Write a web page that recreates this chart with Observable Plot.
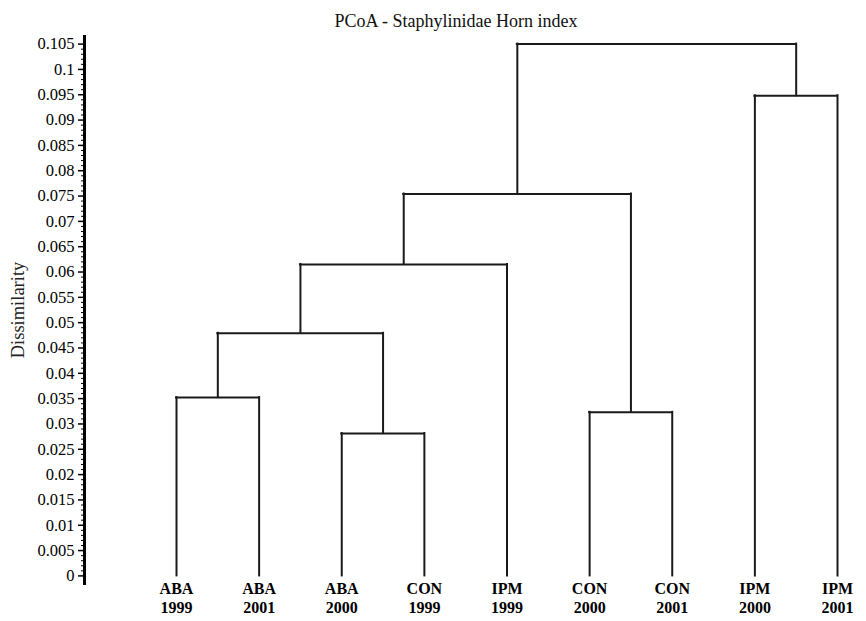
<!DOCTYPE html>
<html>
<head>
<meta charset="utf-8">
<script src="https://cdn.jsdelivr.net/npm/d3@7"></script>
<script src="https://cdn.jsdelivr.net/npm/@observablehq/plot@0.6"></script>
<style>
  html, body { margin: 0; padding: 0; background: #fff; }
</style>
</head>
<body>
<div id="chart"></div>
<script>
// Leaves (left to right)
const leafNames = ["ABA", "ABA", "ABA", "CON", "IPM", "CON", "CON", "IPM", "IPM"];
const leafYears = ["1999", "2001", "2000", "1999", "1999", "2000", "2001", "2000", "2001"];

// Merges: nodes 0..8 are leaves, merge k creates node 9+k
const mergeLeft   = [0, 2, 9, 11, 5, 12, 7, 14];
const mergeRight  = [1, 3, 10, 4, 6, 13, 8, 15];
const mergeHeight = [0.0352, 0.0281, 0.0479, 0.0615, 0.0323, 0.0754, 0.0948, 0.105];

// Y axis ticks
const yTicks = [0, 0.005, 0.01, 0.015, 0.02, 0.025, 0.03, 0.035, 0.04, 0.045, 0.05,
  0.055, 0.06, 0.065, 0.07, 0.075, 0.08, 0.085, 0.09, 0.095, 0.1, 0.105];
const yTickLabels = ["0", "0.005", "0.01", "0.015", "0.02", "0.025", "0.03", "0.035", "0.04",
  "0.045", "0.05", "0.055", "0.06", "0.065", "0.07", "0.075", "0.08", "0.085", "0.09",
  "0.095", "0.1", "0.105"];
const yMinor = d3.range(0, 106).filter(i => i % 5 !== 0).map(i => i / 1000);

const title = "PCoA - Staphylinidae Horn index";
const yLabel = "Dissimilarity";

// Build the tree geometry (in data units)
const nx = leafNames.map((_, i) => i);
const nh = leafNames.map(() => 0);
const verticals = [];
const horizontals = [];
mergeLeft.forEach((l, k) => {
  const r = mergeRight[k];
  const h = mergeHeight[k];
  const id = leafNames.length + k;
  nx[id] = (nx[l] + nx[r]) / 2;
  nh[id] = h;
  for (const c of [l, r]) verticals.push({x: nx[c], y1: nh[c], y2: h});
  horizontals.push({x1: nx[l], x2: nx[r], y: h});
});
const leaves = leafNames.map((n, i) => ({x: i, y: 0, label: n + "\n" + leafYears[i]}));

const serif = "'Liberation Serif', 'Times New Roman', serif";
const lineColor = "#1a1a1a";

const chart = Plot.plot({
  width: 866,
  height: 621,
  marginTop: 36,
  marginBottom: 38,
  marginLeft: 84,
  marginRight: 29,
  style: {fontFamily: serif, background: "#fff", color: "#000"},
  x: {domain: [0, leafNames.length - 1], range: [176, 837], axis: null},
  y: {domain: [-0.0015, 0.1065]},
  marks: [
    Plot.frame({anchor: "left", strokeWidth: 3, stroke: "#000"}),
    Plot.axisY(yMinor, {tickSize: 3, tickFormat: () => "", strokeWidth: 1, label: null}),
    Plot.axisY(yTicks, {
      tickSize: 6, tickPadding: 4, strokeWidth: 1.5,
      tickFormat: (d, i) => yTickLabels[i],
      fontSize: 16.5, label: null
    }),
    Plot.text([yLabel], {frameAnchor: "left", dx: -66, rotate: -90, textAnchor: "middle",
      fontSize: 18.5, fill: "#222"}),
    Plot.text([title], {frameAnchor: "top", dx: -5, dy: -22, fontSize: 18, fill: "#111"}),
    Plot.ruleX(verticals, {x: "x", y1: "y1", y2: "y2", stroke: lineColor, strokeWidth: 2, strokeLinecap: "square"}),
    Plot.ruleY(horizontals, {y: "y", x1: "x1", x2: "x2", stroke: lineColor, strokeWidth: 2, strokeLinecap: "square"}),
    Plot.text(leaves, {x: "x", y: "y", text: "label", lineAnchor: "top", dy: 4,
      lineHeight: 1.2, fontSize: 16, fontWeight: "bold", fill: "#000"})
  ]
});
document.getElementById("chart").appendChild(chart);
</script>
</body>
</html>
